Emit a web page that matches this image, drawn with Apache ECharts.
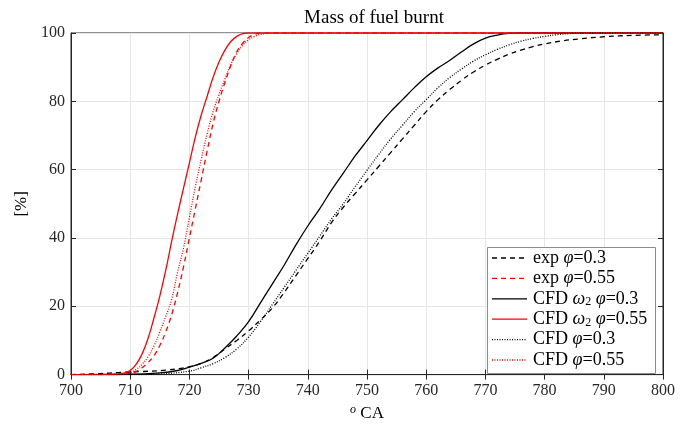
<!DOCTYPE html>
<html>
<head>
<meta charset="utf-8">
<script src="https://cdn.jsdelivr.net/npm/echarts@6/dist/echarts.min.js"></script>
<style>
  html, body { margin: 0; padding: 0; background: #fff; }
  #chart { width: 691px; height: 427px; }
</style>
</head>
<body>
<div id="chart"></div>
<script>
// Crank angle ticks and burnt-mass percentages
const xTicks = [700, 710, 720, 730, 740, 750, 760, 770, 780, 790, 800];
const yTicks = [0, 20, 40, 60, 80, 100];

// exp phi=0.3
const expLeanX = [700, 705, 708, 712, 716, 720, 722, 724, 726, 728, 730, 732, 734, 736, 738, 740, 742, 744, 746, 748, 750, 752, 754, 756, 758, 760, 762, 764, 766, 768, 770, 772, 774, 776, 778, 780, 783, 786, 790, 795, 800];
const expLeanY = [0, 0.3, 0.6, 0.9, 1.3, 2.3, 3.3, 5, 7.5, 10, 12.8, 16, 19.5, 24, 29, 34, 39, 44.5, 49, 53, 57, 61, 65, 69, 73, 77, 80.5, 83.5, 86.2, 88.6, 90.6, 92.3, 93.8, 95, 96, 96.8, 97.7, 98.3, 98.9, 99.3, 99.5];

// exp phi=0.55
const expRichX = [700, 708, 710, 711, 712, 713, 714, 715, 716, 717, 718, 719, 720, 721, 722, 723, 724, 725, 726, 727, 728, 729, 730, 731, 732, 740, 800];
const expRichY = [0, 0, 0.3, 0.9, 2, 3.5, 5.5, 8.5, 12.5, 17.5, 24, 31.5, 40, 48.5, 57, 65.5, 73.5, 80, 85.5, 90.5, 94.5, 97, 98.7, 99.6, 100, 100, 100];

// CFD omega2 phi=0.3
const cfdW2LeanX = [700, 710, 715, 718, 720, 722, 724, 726, 728, 730, 732, 734, 736, 738, 740, 742, 744, 746, 748, 750, 752, 754, 756, 758, 760, 762, 764, 766, 768, 770, 772, 774, 776, 780, 800];
const cfdW2LeanY = [0, 0.1, 0.5, 1.2, 2.2, 3.3, 4.8, 7.8, 11.3, 15.5, 21, 26.5, 32, 38, 43.5, 48.5, 54, 59, 64, 68.5, 73, 77, 80.5, 84, 87.2, 89.8, 92, 94.5, 96.8, 98.5, 99.4, 99.9, 100, 100, 100];

// CFD omega2 phi=0.55
const cfdW2RichX = [700, 705, 708, 709, 710, 711, 712, 713, 714, 715, 716, 717, 718, 719, 720, 721, 722, 723, 724, 725, 726, 727, 728, 729, 730, 735, 800];
const cfdW2RichY = [0, 0, 0.2, 0.5, 1.2, 3, 6, 10.5, 16.5, 23, 30.5, 39, 47, 54.5, 62, 69.5, 76, 81.5, 87, 91.5, 95, 97.5, 99, 99.8, 100, 100, 100];

// CFD phi=0.3
const cfdLeanX = [700, 710, 715, 720, 722, 724, 726, 728, 730, 732, 734, 736, 738, 740, 742, 744, 746, 748, 750, 752, 754, 756, 758, 760, 762, 764, 766, 768, 770, 772, 774, 776, 778, 780, 782, 784, 786, 790, 800];
const cfdLeanY = [0, 0, 0.2, 1, 2, 3.2, 5, 7.5, 11, 15.5, 20.5, 25.5, 30.5, 35.5, 40.5, 45.5, 50, 55, 59.8, 64.5, 69, 73, 77, 80.5, 84, 87, 89.5, 91.8, 93.6, 95.2, 96.5, 97.6, 98.4, 99, 99.5, 99.8, 100, 100, 100];

// CFD phi=0.55
const cfdRichX = [700, 709, 710, 711, 712, 713, 714, 715, 716, 717, 718, 719, 720, 721, 722, 723, 724, 725, 726, 727, 728, 729, 730, 731, 732, 733, 734, 740, 800];
const cfdRichY = [0, 0.2, 0.6, 1.5, 3, 5.2, 8.3, 12.5, 17, 22, 30, 37, 46, 55, 63, 70.5, 77, 82, 86.5, 90.8, 94, 96.4, 98, 99, 99.6, 99.9, 100, 100, 100];

const pairs = (xs, ys) => xs.map((x, i) => [x, ys[i]]);

const serif = 'Liberation Serif';
const axisColor = '#262626';
const DASH = [5, 4];
const DOT = [1, 1.5];

// Legend entries: label (rich text), colour, dash style
const legendRows = [
  { label: 'exp {i|φ}=0.3', color: '#000000', dash: DASH },
  { label: 'exp {i|φ}=0.55', color: '#ff0000', dash: DASH },
  { label: 'CFD {i|ω}{sub|2} {i|φ}=0.3', color: '#000000', dash: null },
  { label: 'CFD {i|ω}{sub|2} {i|φ}=0.55', color: '#ff0000', dash: null },
  { label: 'CFD {i|φ}=0.3', color: '#000000', dash: DOT },
  { label: 'CFD {i|φ}=0.55', color: '#ff0000', dash: DOT }
];

function line(name, xs, ys, color, type) {
  return {
    name: name,
    type: 'line',
    data: pairs(xs, ys),
    symbol: 'none',
    smooth: 0.4,
    lineStyle: { color: color, width: 1.3, type: type },
    itemStyle: { color: color },
    z: 3
  };
}

// Boxed legend drawn as graphic elements
const LG = { x: 487, y: 247, w: 168, h: 126, firstRow: 258, rowStep: 20.4, lineX0: 492, lineX1: 527, textX: 533 };
const legendGraphic = [{
  type: 'rect', z: 100,
  shape: { x: LG.x + 0.5, y: LG.y + 0.5, width: LG.w, height: LG.h },
  style: { fill: '#fff', stroke: '#8c8c8c', lineWidth: 1 }
}];
legendRows.forEach((r, i) => {
  const yRow = LG.firstRow + i * LG.rowStep;
  legendGraphic.push({
    type: 'line', z: 101,
    shape: { x1: LG.lineX0, y1: yRow, x2: LG.lineX1, y2: yRow },
    style: { stroke: r.color, lineWidth: 1.3, lineDash: r.dash }
  });
  legendGraphic.push({
    type: 'text', z: 101, x: LG.textX, y: yRow,
    style: {
      text: r.label, fill: '#000',
      font: '18px "Liberation Serif"',
      verticalAlign: 'middle', align: 'left',
      rich: {
        i: { fontFamily: serif, fontStyle: 'italic', fontSize: 18 },
        sub: { fontFamily: serif, fontSize: 12, padding: [7, 0, 0, 0] }
      }
    }
  });
});

const chart = echarts.init(document.getElementById('chart'), null, { renderer: 'canvas' });

chart.setOption({
  animation: false,
  backgroundColor: '#fff',
  title: {
    text: 'Mass of fuel burnt',
    left: 369, top: 4, textAlign: 'center',
    textStyle: { fontFamily: serif, fontSize: 19, fontWeight: 'normal', color: '#000' }
  },
  grid: { left: 71, right: 28, top: 33, bottom: 44, show: true, borderColor: axisColor, borderWidth: 1 },
  xAxis: [{
    type: 'value', min: 700, max: 800, interval: 10,
    name: '{sup|o} CA', nameLocation: 'middle', nameGap: 18,
    nameTextStyle: {
      fontFamily: serif, fontSize: 17, color: '#000',
      rich: { sup: { fontFamily: serif, fontStyle: 'italic', fontSize: 12, padding: [0, 0, 8, 0] } }
    },
    axisLine: { show: true, lineStyle: { color: axisColor } },
    axisTick: { show: true, inside: true, length: 5, lineStyle: { color: axisColor } },
    axisLabel: { fontFamily: serif, fontSize: 16, color: axisColor, margin: 8,
      formatter: (v) => xTicks.includes(v) ? String(v) : '' },
    splitLine: { show: true, lineStyle: { color: '#e6e6e6', width: 1 } }
  }, {
    type: 'value', position: 'top', min: 700, max: 800, interval: 10,
    axisLine: { show: true, lineStyle: { color: axisColor } },
    axisTick: { show: true, inside: true, length: 5, lineStyle: { color: axisColor } },
    axisLabel: { show: false }, splitLine: { show: false }
  }],
  yAxis: [{
    type: 'value', min: 0, max: 100, interval: 20,
    name: '[%]', nameLocation: 'middle', nameGap: 40, nameRotate: 90,
    nameTextStyle: { fontFamily: serif, fontSize: 17, color: '#000' },
    axisLine: { show: true, lineStyle: { color: axisColor } },
    axisTick: { show: true, inside: true, length: 5, lineStyle: { color: axisColor } },
    axisLabel: { fontFamily: serif, fontSize: 16, color: axisColor, margin: 6,
      formatter: (v) => yTicks.includes(v) ? String(v) : '' },
    splitLine: { show: true, lineStyle: { color: '#e6e6e6', width: 1 } }
  }, {
    type: 'value', position: 'right', min: 0, max: 100, interval: 20,
    axisLine: { show: true, lineStyle: { color: axisColor } },
    axisTick: { show: true, inside: true, length: 5, lineStyle: { color: axisColor } },
    axisLabel: { show: false }, splitLine: { show: false }
  }],
  series: [
    line('exp φ=0.3', expLeanX, expLeanY, '#000000', DASH),
    line('exp φ=0.55', expRichX, expRichY, '#ff0000', DASH),
    line('CFD ω2 φ=0.3', cfdW2LeanX, cfdW2LeanY, '#000000', 'solid'),
    line('CFD ω2 φ=0.55', cfdW2RichX, cfdW2RichY, '#ff0000', 'solid'),
    line('CFD φ=0.3', cfdLeanX, cfdLeanY, '#000000', DOT),
    line('CFD φ=0.55', cfdRichX, cfdRichY, '#ff0000', DOT)
  ],
  graphic: legendGraphic
});
</script>
</body>
</html>
